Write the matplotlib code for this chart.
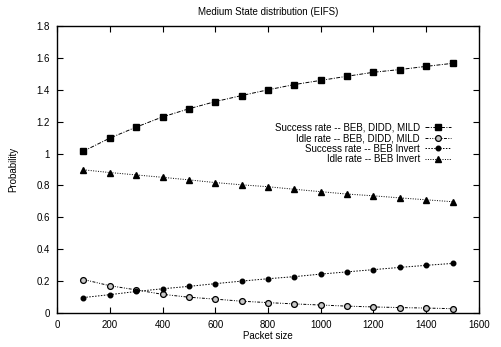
#!/usr/bin/env python3
"""Medium state distribution (EIFS) vs packet size, drawn in a gnuplot-like style."""

import matplotlib

matplotlib.use("Agg")

import matplotlib.pyplot as plt
from matplotlib.ticker import FuncFormatter, MultipleLocator

plt.rcParams["font.family"] = ["Liberation Sans", "DejaVu Sans"]

packet_size = [100, 200, 300, 400, 500, 600, 700, 800, 900, 1000, 1100, 1200, 1300, 1400, 1500]

success_beb_didd_mild = [1.015, 1.097, 1.166, 1.230, 1.281, 1.326, 1.364, 1.400, 1.433,
                         1.459, 1.485, 1.510, 1.527, 1.547, 1.566]
idle_beb_didd_mild = [0.210, 0.171, 0.145, 0.117, 0.099, 0.087, 0.074, 0.065, 0.057,
                      0.050, 0.043, 0.038, 0.034, 0.031, 0.027]
success_beb_invert = [0.097, 0.115, 0.135, 0.152, 0.167, 0.184, 0.200, 0.215, 0.228,
                      0.244, 0.258, 0.272, 0.286, 0.299, 0.311]
idle_beb_invert = [0.898, 0.881, 0.866, 0.851, 0.835, 0.818, 0.804, 0.792, 0.776,
                   0.761, 0.746, 0.735, 0.722, 0.710, 0.698]

series = [
    ("Success rate -- BEB, DIDD, MILD", success_beb_didd_mild,
     dict(marker="s", markersize=4.2, markerfacecolor="black", dashes=(4, 1.5, 1, 1.5))),
    ("Idle rate -- BEB, DIDD, MILD", idle_beb_didd_mild,
     dict(marker="o", markersize=4.2, markerfacecolor="#c8c8c8", markeredgewidth=0.9,
          dashes=(3, 1.5, 1, 1.5, 1, 1.5))),
    ("Success rate -- BEB Invert", success_beb_invert,
     dict(marker="o", markersize=3.3, markerfacecolor="black", dashes=(1.5, 1.5))),
    ("Idle rate -- BEB Invert", idle_beb_invert,
     dict(marker="^", markersize=4.2, markerfacecolor="black", dashes=(1, 1.5))),
]

fig = plt.figure(figsize=(5.01, 3.47), dpi=100)
ax = fig.add_axes([0.114, 0.098, 0.842, 0.827])

for label, values, style in series:
    ax.plot(packet_size, values, color="black", linewidth=0.7,
            markeredgecolor="black", label=label, **style)

ax.set_xlim(0, 1600)
ax.set_ylim(0, 1.8)
ax.xaxis.set_major_locator(MultipleLocator(200))
ax.yaxis.set_major_locator(MultipleLocator(0.2))
ax.yaxis.set_major_formatter(FuncFormatter(lambda v, _: f"{v:g}"))
ax.tick_params(direction="in", length=4, width=0.8, top=True, right=True,
               labelsize=7, colors="black", pad=5)
for spine in ax.spines.values():
    spine.set_linewidth(1.0)

ax.set_title("Medium State distribution (EIFS)", fontsize=7, pad=8)
ax.set_xlabel("Packet size", fontsize=7, labelpad=1)
ax.set_ylabel("Probability", fontsize=7, labelpad=13)

# gnuplot-style key: labels right-aligned, sample line to the right of the text
legend = ax.legend(loc="upper right", bbox_to_anchor=(0.945, 0.68), frameon=False,
                   markerfirst=False, fontsize=7, handlelength=2.7, handletextpad=0.5,
                   labelspacing=0.05, borderpad=0)
for text in legend.get_texts():
    text.set_horizontalalignment("right")
legend._legend_box.align = "right"

fig.savefig("out.png", dpi=100)
plt.close(fig)
